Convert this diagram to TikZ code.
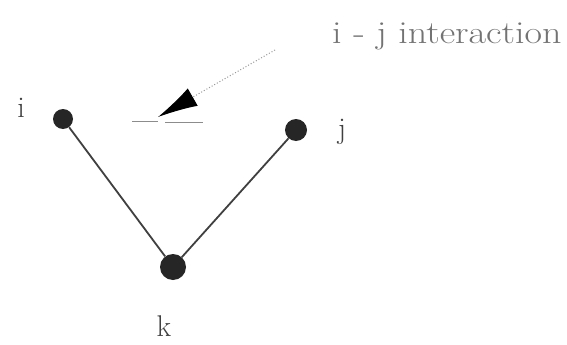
\documentclass[tikz,border=0pt]{standalone}
\usetikzlibrary{arrows.meta}
\begin{document}
\begin{tikzpicture}[x=1pt,y=-1pt,
  dot/.style={circle,fill=black!85,inner sep=0pt},
  lbl/.style={font=\fontsize{30}{32}\selectfont,text=black!75,inner sep=0pt,anchor=base},
  bond/.style={line width=1.8pt,draw=black!75},
  note/.style={font=\fontsize{32}{34}\selectfont,text=black!55,inner sep=0pt,anchor=base west,xscale=1.19}]
\useasboundingbox[fill=white] (0,0) rectangle (567,345);
\node[dot,minimum size=20pt] (i) at (63,119) {};
\node[dot,minimum size=22pt] (j) at (296,130) {};
\node[dot,minimum size=26pt] (k) at (173,267) {};
\node[lbl] (li) at (21,117) {i};
\node[lbl] (lj) at (342,138) {j};
\node[lbl] (lk) at (164,336) {k};
\draw[bond] (i) -- (k);
\draw[bond] (k) -- (j);
\node[note] (t) at (332,44) {i - j interaction};
\coordinate (as) at (275,50);
\coordinate (at) at (158,117);
\draw[dotted,line width=1pt,draw=black!40,-{Latex[length=40pt,width=20pt,fill=black,color=black]}] (as) -- (at);
\coordinate (h1) at (132,121);
\coordinate (h2) at (158,121);
\coordinate (h3) at (165,122);
\coordinate (h4) at (203,122);
\draw[black!45,line width=1pt] (h1) -- (h2);
\draw[black!45,line width=1pt] (h3) -- (h4);
\end{tikzpicture}
\end{document}
